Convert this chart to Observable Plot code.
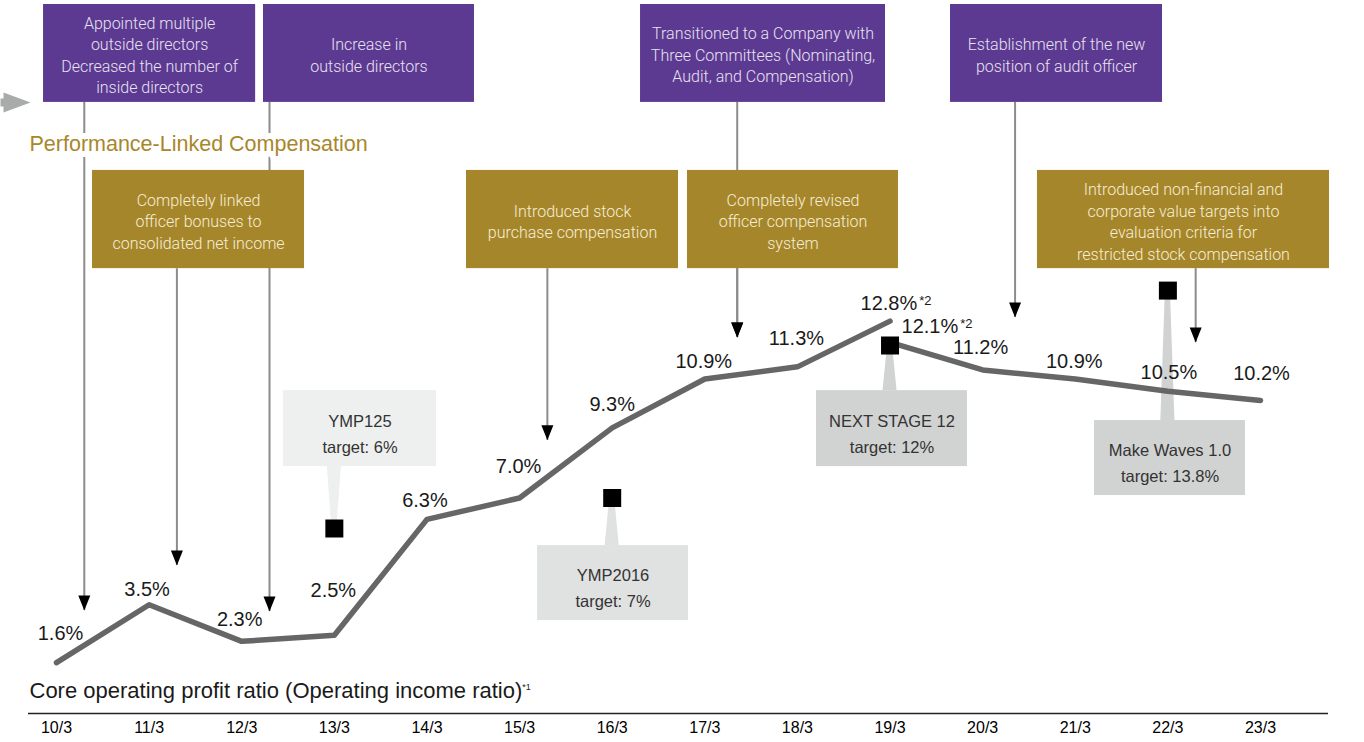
<!DOCTYPE html>
<html>
<head>
<meta charset="utf-8">
<script src="https://cdn.jsdelivr.net/npm/d3@7"></script>
<script src="https://cdn.jsdelivr.net/npm/@observablehq/plot@0.6"></script>
<style>
  html, body { margin: 0; padding: 0; background: #fff; }
  #chart svg { display: block; }
</style>
</head>
<body>
<div id="chart"></div>
<script>
// ---------------- DATA ----------------
const years = ["10/3","11/3","12/3","13/3","14/3","15/3","16/3","17/3","18/3","19/3","20/3","21/3","22/3","23/3"];
// Core operating profit ratio (old basis: operating income ratio) 10/3 .. 19/3
const ratioOld = [1.6, 3.5, 2.3, 2.5, 6.3, 7.0, 9.3, 10.9, 11.3, 12.8];
const notesOld = ["", "", "", "", "", "", "", "", "", "*2"];
// New basis 19/3 .. 23/3
const newYears = ["19/3","20/3","21/3","22/3","23/3"];
const ratioNew = [12.1, 11.2, 10.9, 10.5, 10.2];
const notesNew = ["*2", "", "", "", ""];

// Medium-term plan targets
const targetNames  = ["YMP125", "YMP2016", "NEXT STAGE 12", "Make Waves 1.0"];
const targetYears  = ["13/3", "16/3", "19/3", "22/3"];
const targetValues = [6, 7, 12, 13.8];

// Governance events (position on the fiscal-year axis, index units)
const govTexts = [
  "Appointed multiple\noutside directors\nDecreased the number of\ninside directors",
  "Increase in\noutside directors",
  "Transitioned to a Company with\nThree Committees (Nominating,\nAudit, and Compensation)",
  "Establishment of the new\nposition of audit officer"
];
const govAt  = [0.3, 2.3, 7.35, 10.35];
const govTip = [3.31, 3.28, 12.26, 12.92];

// Performance-linked compensation events
const compTexts = [
  "Completely linked\nofficer bonuses to\nconsolidated net income",
  "Introduced stock\npurchase compensation",
  "Completely revised\nofficer compensation\nsystem",
  "Introduced non-financial and\ncorporate value targets into\nevaluation criteria for\nrestricted stock compensation"
];
const compAt  = [1.3, 5.3, 7.35, 12.3];
const compTip = [4.79, 8.89, 12.26, 12.10];

const sectionTitle = "Performance-Linked Compensation";
const caption = "Core operating profit ratio (Operating income ratio)";
const captionNote = "*1";

// ---------------- LAYOUT (scale units) ----------------
const GOV_BAND = [19.97, 23.18];
const COMP_BAND = [14.52, 17.74];
const govBox = [[-0.14, 2.15], [2.235, 4.513], [6.306, 8.951], [9.653, 11.942]];
const compBox = [[0.389, 2.678], [4.427, 6.716], [6.813, 9.091], [10.592, 13.745]];
const targetBox = [[2.451, 4.103, 8.03, 10.52], [5.194, 6.824, 2.98, 5.44], [8.206, 9.836, 8.03, 10.52], [11.208, 12.838, 7.08, 9.54]];
const targetFill = ["#eeefef", "#e0e1e1", "#d1d2d2", "#d1d2d2"];
const offOld = [[4,-29],[-2,-15],[-2,-22],[-1,-45],[-2,-19],[-1,-31],[0,-23],[-1,-17],[-1,-28],[6,-18]];
const offNew = [[47,-16],[-2,-22],[-1,-17],[1,-19],[1,-27]];

const PURPLE = "#5c3a91", GOLD = "#a6862a";
const SANS = "'Liberation Sans', Arial, Helvetica, sans-serif";
const LIGHT = "Roboto, 'Liberation Sans', Arial, sans-serif";

// ---------------- DERIVED ----------------
const idx = y => years.indexOf(y);
const lineOld = ratioOld.map((v, i) => ({x: i, v, label: v.toFixed(1) + "%", note: notesOld[i]}));
const lineNew = ratioNew.map((v, i) => ({x: idx(newYears[i]), v, label: v.toFixed(1) + "%", note: notesNew[i]}));
const govData = govTexts.map((t, i) => ({text: t, at: govAt[i], tip: govTip[i], x1: govBox[i][0], x2: govBox[i][1]}));
const compData = compTexts.map((t, i) => ({text: t, at: compAt[i], tip: compTip[i], x1: compBox[i][0], x2: compBox[i][1]}));
const targets = targetNames.map((n, i) => {
  const [bx1, bx2, by1, by2] = targetBox[i];
  const v = targetValues[i];
  return {name: n, x: idx(targetYears[i]), v, text: `${n}\ntarget: ${v}%`,
          bx1, bx2, by1, by2, edge: by1 > v ? by1 : by2, fill: targetFill[i]};
});

// custom symbols
const arrowDown = {draw(c) { c.moveTo(-6, -15); c.lineTo(6, -15); c.lineTo(0, 0); c.closePath(); }};
const square18 = {draw(c) { c.rect(-9, -9, 18, 18); }};
const arrowRight = {draw(c) {
  c.moveTo(-14, -4); c.lineTo(-11, -4); c.lineTo(-11, -10); c.lineTo(16, 0);
  c.lineTo(-11, 10); c.lineTo(-11, 4); c.lineTo(-14, 4); c.closePath();
}};

const marks = [
  // x axis
  Plot.ruleY([0], {dy: 2, stroke: "#222", strokeWidth: 1.5}),
  Plot.axisX({ticks: d3.range(years.length), tickFormat: i => years[i], tickSize: 0, tickPadding: 8,
              fontSize: 16, fontFamily: SANS, label: null}),
  // connectors
  Plot.ruleX(govData, {x: "at", y1: GOV_BAND[0], y2: "tip", stroke: "#8c8c8c", strokeWidth: 2}),
  Plot.ruleX(compData, {x: "at", y1: COMP_BAND[0], y2: "tip", stroke: "#8c8c8c", strokeWidth: 2}),
  Plot.dot(govData, {x: "at", y: "tip", symbol: arrowDown, fill: "#000", stroke: "none"}),
  Plot.dot(compData, {x: "at", y: "tip", symbol: arrowDown, fill: "#000", stroke: "none"}),
  // boxes
  Plot.rect(govData, {x1: "x1", x2: "x2", y1: GOV_BAND[0], y2: GOV_BAND[1], fill: PURPLE}),
  Plot.rect(compData, {x1: "x1", x2: "x2", y1: COMP_BAND[0], y2: COMP_BAND[1], fill: GOLD}),
  Plot.text(govData, {x: d => (d.x1 + d.x2) / 2, y: (GOV_BAND[0] + GOV_BAND[1]) / 2, dy: 0.5, text: "text",
    fill: "#e9e2f1", fontSize: 16, fontWeight: 300, fontFamily: LIGHT, lineHeight: 1.34}),
  Plot.text(compData, {x: d => (d.x1 + d.x2) / 2, y: (COMP_BAND[0] + COMP_BAND[1]) / 2, dy: 1, text: "text",
    fill: "#f6eed6", fontSize: 16, fontWeight: 300, fontFamily: LIGHT, lineHeight: 1.34}),
  // section title
  Plot.text([sectionTitle], {frameAnchor: "top-left", textAnchor: "start", lineAnchor: "middle", dx: 1, dy: 144,
    fill: "#a8872b", fontSize: 21.5, fontFamily: SANS, stroke: "#fff", strokeWidth: 12}),
  Plot.dot([0], {x: -0.4535, y: 19.967, symbol: arrowRight, fill: "#a9abab", stroke: "none"}),
  // target callouts
  ...targets.map(t => Plot.areaX([
      {y: t.v, x1: t.x - 0.027, x2: t.x + 0.027},
      {y: t.edge, x1: t.x - 0.076, x2: t.x + 0.076}
    ], {y: "y", x1: "x1", x2: "x2", fill: t.fill})),
  ...targets.map(t => Plot.rect([t], {x1: "bx1", x2: "bx2", y1: "by1", y2: "by2", fill: t.fill})),
  Plot.text(targets, {x: d => (d.bx1 + d.bx2) / 2, y: d => (d.by1 + d.by2) / 2, dy: 3, text: "text",
    fill: "#333", fontSize: 16.5, fontFamily: SANS, lineHeight: 1.58}),
  // line
  Plot.line(lineOld, {x: "x", y: "v", stroke: "#666", strokeWidth: 5.5, strokeLinecap: "round"}),
  Plot.line(lineNew, {x: "x", y: "v", stroke: "#666", strokeWidth: 5.5, strokeLinecap: "round"}),
  Plot.dot(targets, {x: "x", y: "v", symbol: square18, fill: "#000", stroke: "none"}),
  // value labels
  ...lineOld.map((d, i) => Plot.text([d], {x: "x", y: "v", text: "label", dx: offOld[i][0], dy: offOld[i][1],
    fontSize: 20, fontFamily: SANS, fill: "#1a1a1a"})),
  ...lineNew.map((d, i) => Plot.text([d], {x: "x", y: "v", text: "label", dx: offNew[i][0], dy: offNew[i][1],
    fontSize: 20, fontFamily: SANS, fill: "#1a1a1a"})),
  // caption
  Plot.text([caption], {frameAnchor: "bottom-left", textAnchor: "start", lineAnchor: "middle", dx: 1, dy: -23,
    fontSize: 22, fontFamily: SANS, fill: "#1a1a1a"})
];

const plot = Plot.plot({
  width: 1364, height: 742,
  marginTop: 0, marginLeft: 28, marginRight: 36, marginBottom: 29,
  x: {domain: [0, 13], range: [56, 1260]},
  y: {domain: [0, 14], range: [711, 284], axis: null},
  style: {fontFamily: SANS, background: "#fff", overflow: "visible"},
  marks
});

// superscript notes as real text
const SVGNS = "http://www.w3.org/2000/svg";
const noted = [...lineOld, ...lineNew].filter(d => d.note);
plot.querySelectorAll("text").forEach(t => {
  const hit = noted.find(d => d.label === t.textContent);
  if (hit) {
    const ts = document.createElementNS(SVGNS, "tspan");
    ts.setAttribute("font-size", "13"); ts.setAttribute("dx", "2"); ts.setAttribute("dy", "-5");
    ts.textContent = hit.note; t.appendChild(ts);
  } else if (t.textContent === caption) {
    const ts = document.createElementNS(SVGNS, "tspan");
    ts.setAttribute("font-size", "9"); ts.setAttribute("dy", "-8");
    ts.textContent = captionNote; t.appendChild(ts);
  }
});
document.getElementById("chart").appendChild(plot);
</script>
</body>
</html>
